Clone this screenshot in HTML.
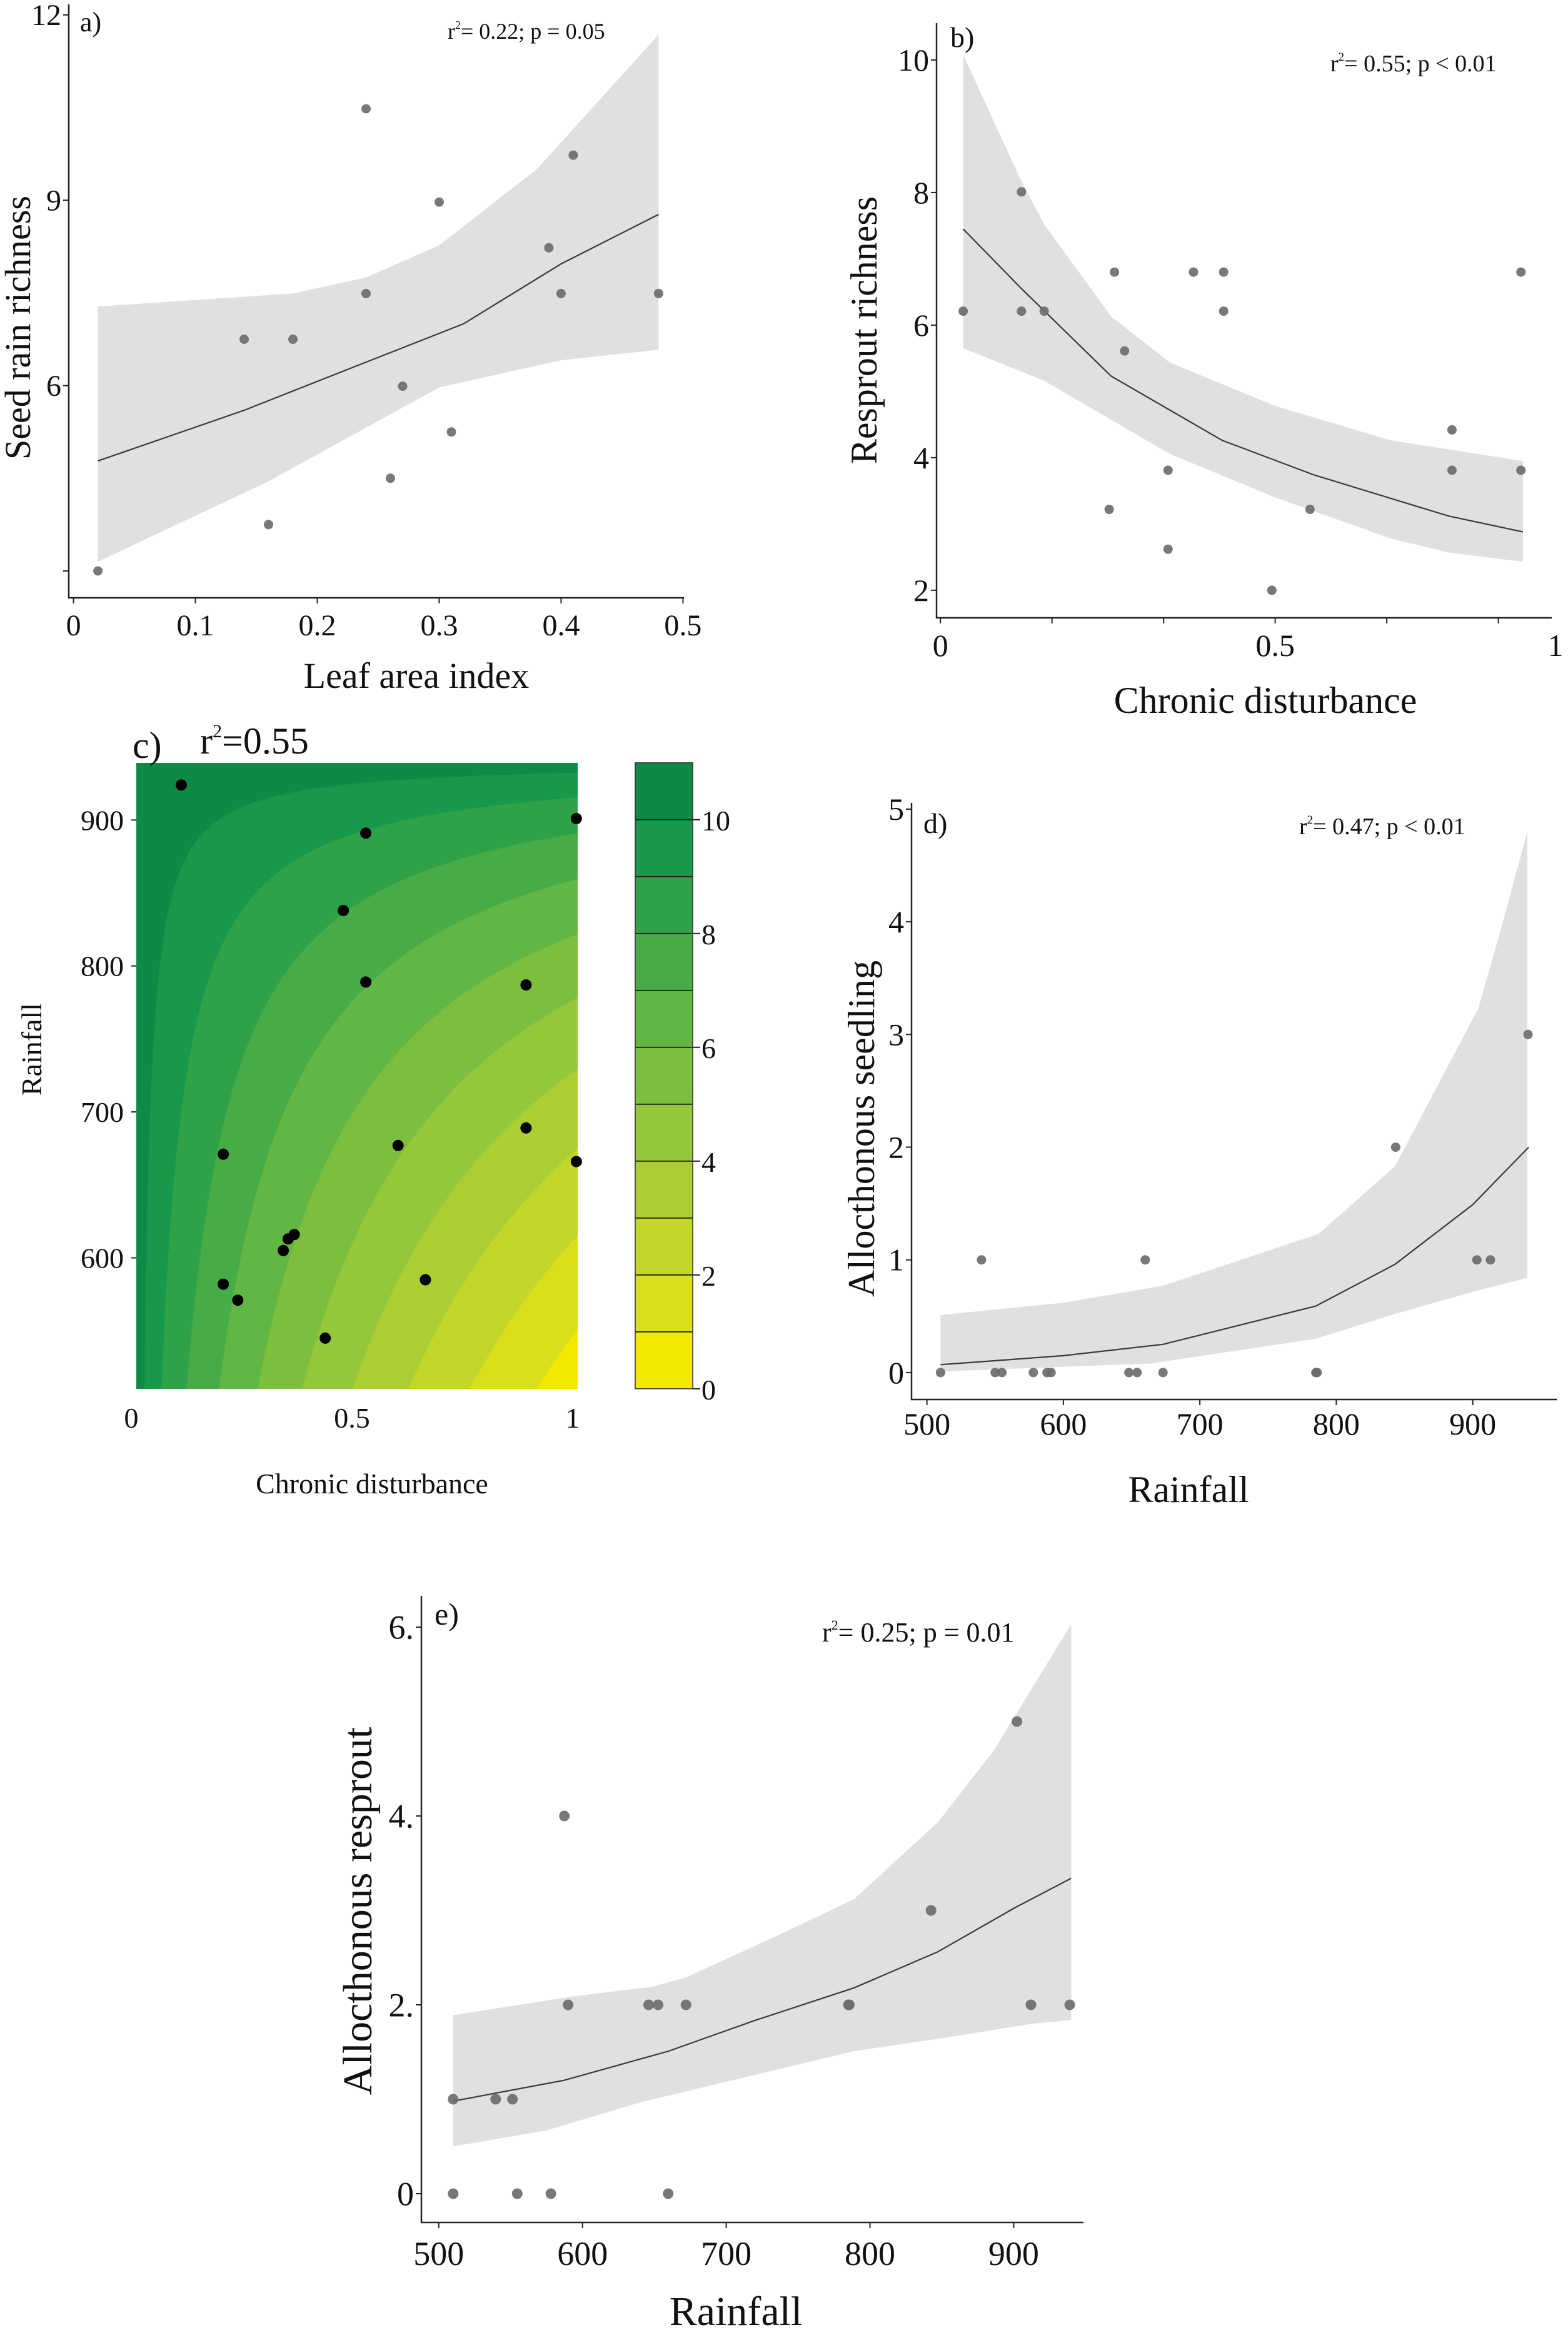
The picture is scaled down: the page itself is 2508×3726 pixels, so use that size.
<!DOCTYPE html>
<html><head><meta charset="utf-8">
<style>
html,body{margin:0;padding:0;background:#fff;}
#wrap{position:relative;width:2508px;height:3726px;overflow:hidden;background:#fff;}
#contour{position:absolute;left:218px;top:1220px;}
svg{position:absolute;left:0;top:0;font-family:"Liberation Serif",serif;}
svg text{font-family:"Liberation Serif",serif !important;fill:#111;}
</style></head>
<body>
<div id="wrap">
<canvas id="contour" width="706" height="1001"></canvas>
<svg id="fig" width="2508" height="3726" viewBox="0 0 2508 3726" xmlns="http://www.w3.org/2000/svg" font-family="Liberation Serif, serif">
  <g id="pa">
    <text x="128" y="50" font-size="44">a)</text>
    <text x="716" y="62" font-size="36">r<tspan font-size="18" dy="-16">2</tspan><tspan dy="16">= 0.22; p = 0.05</tspan></text>
    <text x="666" y="1100" font-size="58" text-anchor="middle">Leaf area index</text>
    <text transform="translate(48,524) rotate(-90)" font-size="58" text-anchor="middle">Seed rain richness</text>
  </g>
  <g id="pb">
    <text x="1520" y="75" font-size="46">b)</text>
    <text x="2128" y="114" font-size="38">r<tspan font-size="19" dy="-17">2</tspan><tspan dy="17">= 0.55; p &lt; 0.01</tspan></text>
    <text x="2024" y="1140" font-size="60" text-anchor="middle">Chronic disturbance</text>
    <text transform="translate(1402,528) rotate(-90)" font-size="60" text-anchor="middle">Resprout richness</text>
    <text x="2488" y="1049" font-size="50" text-anchor="middle">1</text>
  </g>
  <g id="pc">
    <text x="212" y="1212" font-size="60">c)</text>
    <text x="320" y="1205" font-size="60">r<tspan font-size="30" dy="-26">2</tspan><tspan dy="26">=0.55</tspan></text>
    <text x="595" y="2388" font-size="46" text-anchor="middle">Chronic disturbance</text>
    <text transform="translate(66,1678) rotate(-90)" font-size="46" text-anchor="middle">Rainfall</text>
  </g>
  <g id="pd">
    <text x="1477" y="1332" font-size="46">d)</text>
    <text x="2078" y="1334" font-size="38">r<tspan font-size="19" dy="-17">2</tspan><tspan dy="17">= 0.47; p &lt; 0.01</tspan></text>
    <text x="1901" y="2402" font-size="60" text-anchor="middle">Rainfall</text>
    <text transform="translate(1398,1805) rotate(-90)" font-size="60" text-anchor="middle">Allocthonous seedling</text>
  </g>
  <g id="pe">
    <text x="695" y="2598" font-size="50">e)</text>
    <text x="1315" y="2625" font-size="44">r<tspan font-size="22" dy="-19">2</tspan><tspan dy="19">= 0.25; p = 0.01</tspan></text>
    <text x="1177" y="3718" font-size="66" text-anchor="middle">Rainfall</text>
    <text transform="translate(594,3056) rotate(-90)" font-size="66" text-anchor="middle">Allocthonous resprout</text>
  </g>
</svg>
</div>
<script>
// ---------- Panel a data ----------
var aPtsX = [0.02,0.14,0.16,0.18,0.24,0.24,0.26,0.27,0.30,0.31,0.39,0.40,0.41,0.48];
var aPtsY = [3.0,6.75,3.75,6.75,10.48,7.49,4.5,5.99,8.97,5.25,8.23,7.49,9.73,7.49];
var aFitX = [0.02,0.14,0.24,0.32,0.40,0.48];
var aFitY = [4.78,5.6,6.38,7.0,7.97,8.77];
var aUpX = [0.02,0.18,0.24,0.30,0.38,0.48];
var aUpY = [7.28,7.49,7.75,8.27,9.5,11.68];
var aLoX = [0.02,0.16,0.30,0.40,0.48];
var aLoY = [3.15,4.45,5.97,6.41,6.58];
var aXTicks = [0,0.1,0.2,0.3,0.4,0.5];
var aXLabels = ["0","0.1","0.2","0.3","0.4","0.5"];
var aYTicks = [3,6,9,12];
var aYLabels = ["","6","9","12"];
// ---------- Panel b data ----------
var bPtsX = [0.034,0.121,0.121,0.155,0.26,0.275,0.252,0.34,0.34,0.378,0.423,0.423,0.495,0.552,0.764,0.764,0.867,0.867];
var bPtsY = [6.21,8.01,6.21,6.21,6.80,5.61,3.22,3.81,2.62,6.80,6.80,6.21,2.0,3.22,4.42,3.81,6.80,3.81];
var bFitX = [0.034,0.121,0.255,0.421,0.558,0.759,0.87];
var bFitY = [7.45,6.55,5.23,4.26,3.74,3.12,2.88];
var bUpX = [0.034,0.119,0.155,0.255,0.342,0.5,0.673,0.87];
var bUpY = [10.08,8.21,7.52,6.13,5.44,4.78,4.26,3.95];
var bLoX = [0.034,0.155,0.342,0.5,0.673,0.759,0.87];
var bLoY = [5.65,5.16,4.06,3.40,2.78,2.57,2.43];
var bXTicks = [0,1/6,2/6,3/6,4/6,5/6];
var bXLabels = ["0","","","0.5","",""];
var bYTicks = [10,8,6,4,2];
var bYLabels = ["10","8","6","4","2"];
// ---------- Panel c data ----------
var cDist = [0.102,0.52,0.997,0.469,0.52,0.883,0.883,0.593,0.997,0.197,0.333,0.344,0.358,0.197,0.23,0.655,0.428];
var cRain = [924,891,901,838,789,787,689,677,666,671,605,613,616,582,571,585,545];
var cXTicks = [0,0.5,1];
var cXLabels = ["0","0.5","1"];
var cYTicks = [600,700,800,900];
var cYLabels = ["600","700","800","900"];
var cLevels = [0,1,2,3,4,5,6,7,8,9,10,11];
var cBarLabels = [0,2,4,6,8,10];
// ---------- Panel d data ----------
var dPtsX = [510,550,555,578,588,591,648,654,673,785,786,540,660,903,913,843.5,940.5];
var dPtsY = [0,0,0,0,0,0,0,0,0,0,0,1,1,1,1,2,3];
var dFitX = [510,600,673,785,843,900,941];
var dFitY = [0.07,0.15,0.25,0.59,0.96,1.49,2.0];
var dUpX = [510,600,673,787,843,904,921,940];
var dUpY = [0.51,0.62,0.77,1.23,1.83,3.23,3.95,4.80];
var dLoX = [510,664,785,843,904,940];
var dLoY = [0.01,0.08,0.30,0.52,0.73,0.84];
var dXTicks = [500,600,700,800,900];
var dXLabels = ["500","600","700","800","900"];
var dYTicks = [0,1,2,3,4,5];
var dYLabels = ["0","1","2","3","4","5"];
// ---------- Panel e data ----------
var ePtsX = [510,554.6,578,659.6,510,539.6,551.3,590,646,652.6,672,785,785.6,912,939,842.5,587.4,902.3];
var ePtsY = [0,0,0,0,1,1,1,2,2,2,2,2,2,2,2,3,4,5];
var eFitX = [510,587,660,719,789,847,901,940];
var eFitY = [0.98,1.20,1.51,1.83,2.18,2.56,3.03,3.34];
var eUpX = [510,594,648,672,738,789,847,886,940];
var eUpY = [1.89,2.09,2.19,2.29,2.75,3.12,3.93,4.69,6.03];
var eLoX = [510,575,641,789,847,913,940];
var eLoY = [0.50,0.67,0.97,1.51,1.64,1.80,1.84];
var eXTicks = [500,600,700,800,900];
var eXLabels = ["500","600","700","800","900"];
var eYTicks = [0,2,4,6];
var eYLabels = ["0","2.","4.","6."];

var NS = "http://www.w3.org/2000/svg";
function mk(parent, tag, attrs){
  var e = document.createElementNS(NS, tag);
  for (var k in attrs) e.setAttribute(k, attrs[k]);
  parent.appendChild(e);
  return e;
}
function scatterPanel(g, p){
  var xs = p.xs, ys = p.ys, i, d = "";
  for (i = 0; i < p.upX.length; i++) d += (i ? "L" : "M") + xs(p.upX[i]).toFixed(1) + "," + ys(p.upY[i]).toFixed(1);
  for (i = p.loX.length - 1; i >= 0; i--) d += "L" + xs(p.loX[i]).toFixed(1) + "," + ys(p.loY[i]).toFixed(1);
  var band = mk(g, "path", {d: d + "Z", fill: "#dfe0df"});
  
  
  var ld = "";
  for (i = 0; i < p.fitX.length; i++) ld += (i ? "L" : "M") + xs(p.fitX[i]).toFixed(1) + "," + ys(p.fitY[i]).toFixed(1);
  var ln = mk(g, "path", {d: ld, fill: "none", stroke: "#3a3a3a", "stroke-width": 2.2});
  
  
  var ax = mk(g, "path", {d: "M" + p.ax0 + "," + p.ay0 + "L" + p.ax0 + "," + p.ay1 + "L" + p.ax1 + "," + p.ay1, fill: "none", stroke: "#222", "stroke-width": 2.5});
  
  
  for (i = 0; i < p.xt.length; i++){
    var tx = xs(p.xt[i]);
    var tk = mk(g, "line", {x1: tx, x2: tx, y1: p.ay1, y2: p.ay1 + 9, stroke: "#222", "stroke-width": 2});
    
    
    if (p.xl[i]){
      var t = mk(g, "text", {x: tx, y: p.xly, "font-size": p.fs, "text-anchor": "middle", "font-family": "Liberation Serif, serif"});
      t.textContent = p.xl[i];
      
      
    }
  }
  for (i = 0; i < p.yt.length; i++){
    var ty = ys(p.yt[i]);
    var tk2 = mk(g, "line", {x1: p.ax0 - 9, x2: p.ax0, y1: ty, y2: ty, stroke: "#222", "stroke-width": 2});
    
    
    if (p.yl[i]){
      var t2 = mk(g, "text", {x: p.ax0 - 12, y: ty + p.fs * 0.34, "font-size": p.fs, "text-anchor": "end", "font-family": "Liberation Serif, serif"});
      t2.textContent = p.yl[i];
      
      
    }
  }
  for (i = 0; i < p.px.length; i++){
    var c = mk(g, "circle", {cx: xs(p.px[i]).toFixed(1), cy: ys(p.py[i]).toFixed(1), r: p.r, fill: "#6c6c6c", "fill-opacity": 0.92});
    
    
  }
}
scatterPanel(document.getElementById("pa"), {
  xs: function(v){return 117.6 + v * 1949.6;}, ys: function(v){return 913 - (v - 3) * 98.8;},
  px: aPtsX, py: aPtsY, fitX: aFitX, fitY: aFitY, upX: aUpX, upY: aUpY, loX: aLoX, loY: aLoY,
  xt: aXTicks, xl: aXLabels, yt: aYTicks, yl: aYLabels,
  ax0: 110, ay0: 7, ay1: 956, ax1: 1094, xly: 1016, fs: 48, r: 7.5
});
scatterPanel(document.getElementById("pb"), {
  xs: function(v){return 1504.2 + v * 1070.9;}, ys: function(v){return 943.9 - (v - 2) * 106.0;},
  px: bPtsX, py: bPtsY, fitX: bFitX, fitY: bFitY, upX: bUpX, upY: bUpY, loX: bLoX, loY: bLoY,
  xt: bXTicks, xl: bXLabels, yt: bYTicks, yl: bYLabels,
  ax0: 1498, ay0: 37, ay1: 988, ax1: 2482, xly: 1049, fs: 50, r: 7.5
});
scatterPanel(document.getElementById("pd"), {
  xs: function(v){return 1482.6 + (v - 500) * 2.1826;}, ys: function(v){return 2194.9 - 180.2 * v;},
  px: dPtsX, py: dPtsY, fitX: dFitX, fitY: dFitY, upX: dUpX, upY: dUpY, loX: dLoX, loY: dLoY,
  xt: dXTicks, xl: dXLabels, yt: dYTicks, yl: dYLabels,
  ax0: 1458, ay0: 1284, ay1: 2238, ax1: 2490, xly: 2294, fs: 50, r: 7.5
});
scatterPanel(document.getElementById("pe"), {
  xs: function(v){return 701.8 + (v - 500) * 2.299;}, ys: function(v){return 3508 - 151.0 * v;},
  px: ePtsX, py: ePtsY, fitX: eFitX, fitY: eFitY, upX: eUpX, upY: eUpY, loX: eLoX, loY: eLoY,
  xt: eXTicks, xl: eXLabels, yt: eYTicks, yl: eYLabels,
  ax0: 674, ay0: 2552, ay1: 3554, ax1: 1733, xly: 3622, fs: 54, r: 8.5
});

// ---------- Panel c: contour ----------
var bandColors = ["#f3e800","#dadf1c","#c3d72a","#abcf33","#95c73a","#7cbf3f","#62b643","#48ac46","#2fa248","#18984a","#0c8a46"];
var CX0 = 218, CY0 = 1220, CW = 706, CH = 1001;
function cx(v){return CX0 + v * 706;}
function cy(v){return 1311.3 + (900 - v) * 2.334;}
function surface(d, r){
  var w = (940 - r) / 430; if (w < 0) w = 0;
  return 11 - 10.6 * Math.pow(d * w, 0.58);
}
(function(){
  var cv = document.getElementById("contour"), ctx = cv.getContext("2d");
  var img = ctx.createImageData(CW, CH);
  var rgb = bandColors.map(function(h){return [parseInt(h.substr(1,2),16),parseInt(h.substr(3,2),16),parseInt(h.substr(5,2),16)];});
  for (var y = 0; y < CH; y++){
    var r = 900 - (CY0 + y - 1311.3) / 2.334;
    for (var x = 0; x < CW; x++){
      var d = x / 706;
      var f = surface(d, r);
      var k = Math.floor(f); if (k < 0) k = 0; if (k > 10) k = 10;
      var o = (y * CW + x) * 4;
      img.data[o] = rgb[k][0]; img.data[o+1] = rgb[k][1]; img.data[o+2] = rgb[k][2]; img.data[o+3] = 255;
    }
  }
  ctx.putImageData(img, 0, 0);
  var g = document.getElementById("pc"), i;
  for (i = 0; i < cXTicks.length; i++){
    var t = mk(g, "text", {x: cx(cXTicks[i]) - 8, y: 2283, "font-size": 46, "text-anchor": "middle", "font-family": "Liberation Serif, serif"});
    t.textContent = cXLabels[i];
    
    
  }
  for (i = 0; i < cYTicks.length; i++){
    var ty = cy(cYTicks[i]);
    var tk = mk(g, "line", {x1: CX0 - 8, x2: CX0, y1: ty, y2: ty, stroke: "#222", "stroke-width": 2});
    
    
    var t2 = mk(g, "text", {x: 198, y: ty + 16, "font-size": 46, "text-anchor": "end", "font-family": "Liberation Serif, serif"});
    t2.textContent = cYLabels[i];
    
    
  }
  for (i = 0; i < cDist.length; i++){
    var c = mk(g, "circle", {cx: cx(cDist[i]).toFixed(1), cy: cy(cRain[i]).toFixed(1), r: 9, fill: "#000"});
    
    
  }
  function by(v){return 2220.8 - 91.0 * v;}
  for (i = 0; i < cLevels.length - 1; i++){
    var rc = mk(g, "rect", {x: 1016, y: by(cLevels[i+1]), width: 92, height: by(cLevels[i]) - by(cLevels[i+1]), fill: bandColors[i]});
    
    
    if (i > 0){
      var bl = mk(g, "line", {x1: 1016, x2: 1108, y1: by(cLevels[i]), y2: by(cLevels[i]), stroke: "#222", "stroke-width": 1.8});
      
      
    }
  }
  var fr = mk(g, "rect", {x: 1016, y: by(11), width: 92, height: by(0) - by(11), fill: "none", stroke: "#333", "stroke-width": 1.5});
  
  
  for (i = 0; i < cBarLabels.length; i++){
    var yy = by(cBarLabels[i]);
    var tk3 = mk(g, "line", {x1: 1108, x2: 1120, y1: yy, y2: yy, stroke: "#222", "stroke-width": 2});
    
    
    var t3 = mk(g, "text", {x: 1122, y: yy + 17, "font-size": 46, "font-family": "Liberation Serif, serif"});
    t3.textContent = String(cBarLabels[i]);
    
    
  }
})();
</script>
</body></html>
